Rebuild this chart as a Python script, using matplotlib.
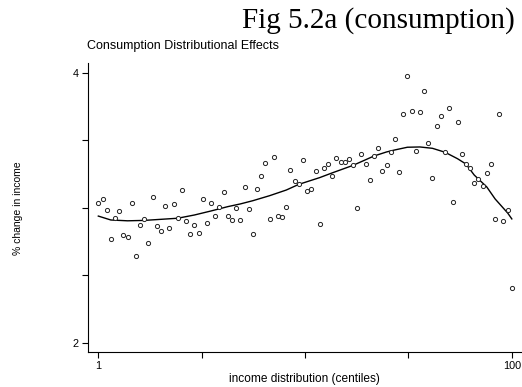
import numpy as np
import matplotlib
matplotlib.use("Agg")
import matplotlib.pyplot as plt

# centiles 1..100 and the % change
centiles = np.arange(1, 101)
pct_change = [
    3.035, 3.064, 2.983, 2.773, 2.926, 2.976, 2.798, 2.783, 3.037, 2.647,
    2.876, 2.921, 2.741, 3.079, 2.864, 2.832, 3.015, 2.854, 3.032, 2.924,
    3.133, 2.901, 2.807, 2.876, 2.813, 3.067, 2.889, 3.035, 2.939, 3.010,
    3.116, 2.939, 2.909, 3.000, 2.910, 3.158, 2.995, 2.810, 3.141, 3.237,
    3.331, 2.921, 3.378, 2.941, 2.933, 3.005, 3.284, 3.198, 3.178, 3.353,
    3.124, 3.143, 3.274, 2.879, 3.296, 3.328, 3.235, 3.370, 3.343, 3.343,
    3.363, 3.316, 3.000, 3.400, 3.328, 3.210, 3.385, 3.441, 3.274, 3.321,
    3.413, 3.513, 3.264, 3.699, 3.976, 3.719, 3.424, 3.713, 3.864, 3.481,
    3.224, 3.610, 3.681, 3.413, 3.739, 3.042, 3.637, 3.400, 3.326, 3.294,
    3.185, 3.215, 3.163, 3.259, 3.328, 2.919, 3.694, 2.906, 2.987, 2.407,
]

# smoothed fit line
fit_x = [1, 4, 8, 12, 16, 20, 24, 28, 32, 35, 38, 42, 46, 49, 54, 57, 62,
         67, 70, 72, 75, 78, 81, 84, 87, 89, 91, 94, 96, 99, 100]
fit_y = [2.94, 2.911, 2.905, 2.908, 2.916, 2.924, 2.948, 2.978, 3.010, 3.030,
         3.054, 3.091, 3.133, 3.175, 3.225, 3.260, 3.316, 3.385, 3.415, 3.430,
         3.450, 3.452, 3.442, 3.413, 3.365, 3.326, 3.244, 3.156, 3.067, 2.963,
         2.919]

x_ticks = [1, 25.75, 50.5, 75.25, 100]
x_ticklabels = ["1", "", "", "", "100"]
y_ticks = [2, 2.5, 3, 3.5, 4]
y_ticklabels = ["2", "", "", "", "4"]

plt.rcParams['font.family'] = ['Liberation Sans', 'DejaVu Sans']

fig = plt.figure(figsize=(5.22, 3.87), dpi=100)
ax = fig.add_axes([0.1686, 0.0904, 0.8295, 0.7468])

ax.plot(centiles, pct_change, 'o', ms=3.0, mfc='white', mec='#222222', mew=0.7, zorder=3)
ax.plot(fit_x, fit_y, '-', color='black', lw=1.0, zorder=2)

ax.set_xlim(-1.47, 102.2)
ax.set_ylim(1.933, 4.074)
ax.set_xticks(x_ticks)
ax.set_xticklabels(x_ticklabels)
ax.set_yticks(y_ticks)
ax.set_yticklabels(y_ticklabels)
ax.tick_params(length=4, width=0.8, labelsize=7.8, pad=2.5)

for side in ['top', 'right']:
    ax.spines[side].set_visible(False)
for side in ['left', 'bottom']:
    ax.spines[side].set_linewidth(0.8)

ax.set_xlabel("income distribution (centiles)", fontsize=8.6, labelpad=1.5)
fig.text(18 / 522, 1 - 208 / 387, "% change in income", rotation=90,
         fontsize=7.5, ha='center', va='center')

fig.text(87 / 522, 1 - 46 / 387, "Consumption Distributional Effects",
         fontsize=9, ha='left', va='center')
fig.text(515 / 522, 1 - 28 / 387, "Fig 5.2a (consumption)",
         family='Liberation Serif', fontsize=21, ha='right', va='baseline')

fig.savefig("out.png", dpi=100)
